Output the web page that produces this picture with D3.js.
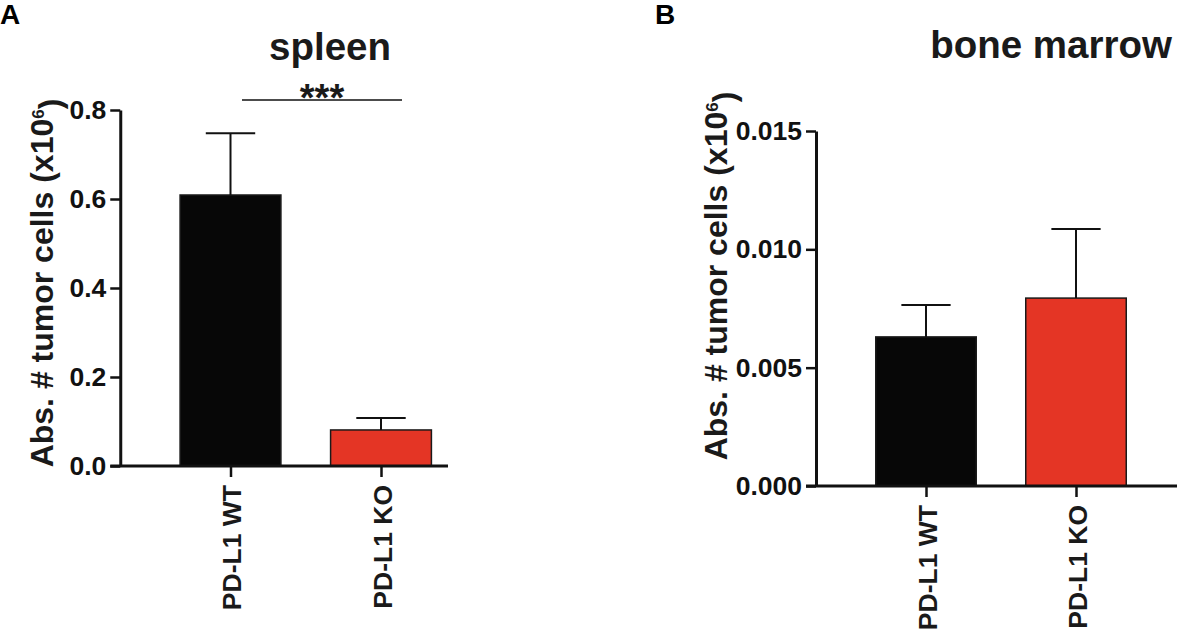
<!DOCTYPE html>
<html>
<head>
<meta charset="utf-8">
<script src="https://cdn.jsdelivr.net/npm/d3@7"></script>
<style>
  body { margin: 0; background: #fff; }
  svg { display: block; font-family: "Liberation Sans", Arial, Helvetica, sans-serif; font-weight: bold; }
</style>
</head>
<body>
<svg id="chart"></svg>
<script>
// data
const categories = ["PD-L1 WT", "PD-L1 KO"];
const barColors = ["#070707", "#e43525"];

const spleenMean = [0.609, 0.081];
const spleenSem = [0.139, 0.027];
const spleenTicks = [0.0, 0.2, 0.4, 0.6, 0.8];

const boneMean = [0.0063, 0.00794];
const boneSem = [0.00135, 0.00292];
const boneTicks = [0.000, 0.005, 0.010, 0.015];

const width = 1177;
const height = 640;

const svg = d3.select("#chart")
  .attr("width", width)
  .attr("height", height);

// one panel = one bar chart with its own scales
function drawPanel(cfg) {
  const g = svg.append("g");

  const x = d3.scalePoint()
    .domain(categories)
    .range(cfg.xRange)
    .padding(0.5);
  const barW = x.step() * 0.67;

  const y = d3.scaleLinear()
    .domain(cfg.yDomain)
    .range(cfg.yRange);

  const axisX = cfg.xRange[0] - 35;

  // bars
  g.selectAll("rect.bar")
    .data(cfg.mean)
    .enter()
    .append("rect")
    .attr("class", "bar")
    .attr("x", (d, i) => x(categories[i]) - barW / 2)
    .attr("y", d => y(d))
    .attr("width", barW)
    .attr("height", d => y(0) - y(d))
    .attr("fill", (d, i) => barColors[i])
    .attr("stroke", "#1a1a1a")
    .attr("stroke-width", 1.5);

  // upper error bars
  const capW = barW * 0.49;
  cfg.mean.forEach((m, i) => {
    const cx = x(categories[i]);
    const top = y(m + cfg.sem[i]);
    g.append("line")
      .attr("x1", cx).attr("x2", cx)
      .attr("y1", y(m)).attr("y2", top)
      .attr("stroke", "#111").attr("stroke-width", 2);
    g.append("line")
      .attr("x1", cx - capW / 2).attr("x2", cx + capW / 2)
      .attr("y1", top).attr("y2", top)
      .attr("stroke", "#111").attr("stroke-width", 2);
  });

  // y axis
  const yAxis = d3.axisLeft(y)
    .tickValues(cfg.ticks)
    .tickFormat(cfg.fmt)
    .tickSize(10)
    .tickSizeOuter(0)
    .tickPadding(4);

  const ya = g.append("g")
    .attr("transform", `translate(${axisX},0)`)
    .call(yAxis);
  ya.select(".domain").attr("stroke", "#111").attr("stroke-width", 3);
  ya.selectAll(".tick line").attr("stroke", "#111").attr("stroke-width", 2.5);
  ya.selectAll(".tick text")
    .attr("fill", "#111")
    .style("font-size", "26.5px")
    .style("font-weight", "bold");

  // x axis
  const xAxis = d3.axisBottom(x)
    .tickSize(11)
    .tickSizeOuter(0)
    .tickFormat("");
  const xa = g.append("g")
    .attr("transform", `translate(0,${y(0)})`)
    .call(xAxis);
  xa.select(".domain").remove();
  xa.append("line")
    .attr("x1", axisX - 10).attr("x2", cfg.xAxisEnd)
    .attr("y1", 0).attr("y2", 0)
    .attr("stroke", "#111").attr("stroke-width", 3);
  xa.selectAll(".tick line").attr("stroke", "#111").attr("stroke-width", 2.5);

  // category labels, rotated
  g.selectAll("text.cat")
    .data(categories)
    .enter()
    .append("text")
    .attr("class", "cat")
    .attr("transform", d => `translate(${x(d) + 1},${y(0) + cfg.labelGap}) rotate(-90)`)
    .attr("text-anchor", "end")
    .attr("dy", "0.36em")
    .attr("fill", "#1a1a1a")
    .style("font-size", "26.5px")
    .text(d => d);

  // y label
  const yl = g.append("text")
    .attr("transform", `translate(${cfg.yLabelX},${cfg.yLabelY}) rotate(-90)`)
    .attr("text-anchor", "middle")
    .attr("fill", "#1a1a1a")
    .style("font-size", "32px");
  yl.append("tspan").text("Abs. # tumor cells (x10");
  yl.append("tspan").attr("dy", "-0.55em").style("font-size", "17px").text("6");
  yl.append("tspan").attr("dy", "0.55em").text(")");

  // title
  g.append("text")
    .attr("x", cfg.titleX)
    .attr("y", cfg.titleY)
    .attr("text-anchor", "middle")
    .attr("fill", "#1a1a1a")
    .style("font-size", "38.5px")
    .text(cfg.title);

  // panel letter
  g.append("text")
    .attr("x", cfg.letterX)
    .attr("y", 24)
    .attr("fill", "#000")
    .style("font-size", "28px")
    .text(cfg.letter);

  return { g, x, y };
}

const spleen = drawPanel({
  mean: spleenMean, sem: spleenSem, ticks: spleenTicks,
  yDomain: [0, 0.8], yRange: [466, 110],
  xRange: [155.25, 456.25], xAxisEnd: 448,
  fmt: d3.format(".1f"),
  labelGap: 19,
  yLabelX: 53, yLabelY: 283,
  title: "spleen", titleX: 330, titleY: 60,
  letter: "A", letterX: 0
});

drawPanel({
  mean: boneMean, sem: boneSem, ticks: boneTicks,
  yDomain: [0, 0.015], yRange: [486, 131],
  xRange: [851, 1151], xAxisEnd: 1177,
  fmt: d3.format(".3f"),
  labelGap: 19,
  yLabelX: 727, yLabelY: 276,
  title: "bone marrow", titleX: 1051, titleY: 58,
  letter: "B", letterX: 655
});

// significance bracket on spleen
const sigY = 100;
spleen.g.append("line")
  .attr("x1", 242).attr("x2", 402)
  .attr("y1", sigY).attr("y2", sigY)
  .attr("stroke", "#111").attr("stroke-width", 1.5);
spleen.g.append("text")
  .attr("x", 322)
  .attr("y", sigY + 11)
  .attr("text-anchor", "middle")
  .attr("fill", "#1a1a1a")
  .style("font-size", "38px")
  .text("***");
</script>
</body>
</html>
